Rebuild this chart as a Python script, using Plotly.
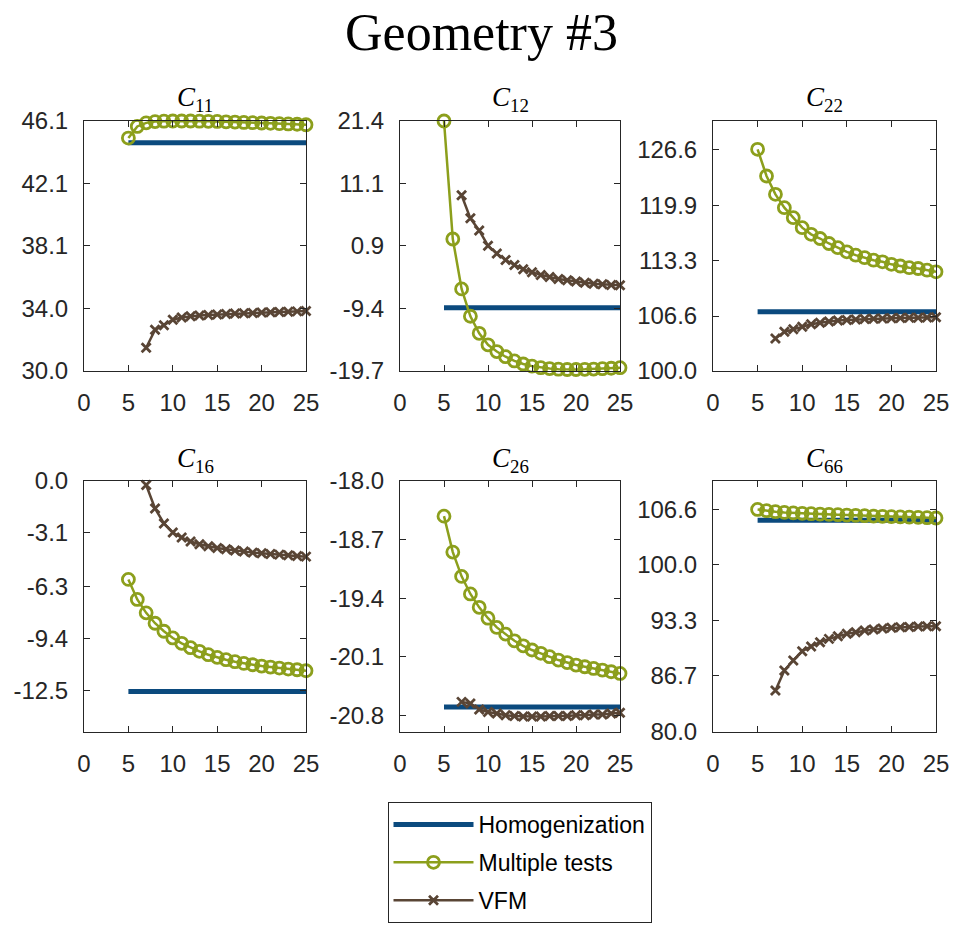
import plotly.graph_objects as go

# Sample sizes (x) for each method
x_multi = [5, 6, 7, 8, 9, 10, 11, 12, 13, 14, 15, 16, 17, 18, 19, 20, 21, 22, 23, 24, 25]
x_vfm = [7, 8, 9, 10, 11, 12, 13, 14, 15, 16, 17, 18, 19, 20, 21, 22, 23, 24, 25]
x_hom = [5, 25]

# Stiffness components
hom_C11 = 44.7
multi_C11 = [45.0, 45.75, 45.98, 46.06, 46.09, 46.10, 46.10, 46.10, 46.09, 46.08, 46.07,
             46.05, 46.03, 46.01, 45.99, 45.97, 45.95, 45.93, 45.91, 45.89, 45.86]
vfm_C11 = [31.5, 32.65, 32.95, 33.3, 33.45, 33.52, 33.57, 33.61, 33.64, 33.67, 33.70,
           33.72, 33.74, 33.76, 33.78, 33.80, 33.82, 33.84, 33.87]

hom_C12 = -9.3
multi_C12 = [21.4, 2.0, -6.2, -10.7, -13.5, -15.4, -16.5, -17.35, -18.05, -18.55, -18.9,
             -19.15, -19.3, -19.4, -19.45, -19.45, -19.42, -19.38, -19.32, -19.25, -19.15]
vfm_C12 = [9.2, 5.4, 3.4, 0.9, -0.4, -1.45, -2.27, -2.98, -3.48, -3.92, -4.25,
           -4.57, -4.79, -5.0, -5.18, -5.34, -5.45, -5.56, -5.62]

hom_C22 = 107.1
multi_C22 = [126.6, 123.4, 121.2, 119.6, 118.4, 117.2, 116.4, 115.9, 115.3, 114.8, 114.3,
             113.9, 113.6, 113.3, 113.1, 112.8, 112.6, 112.4, 112.3, 112.1, 111.9]
vfm_C22 = [103.9, 104.7, 105.0, 105.3, 105.6, 105.8, 105.95, 106.05, 106.12, 106.18, 106.23,
           106.27, 106.3, 106.33, 106.36, 106.38, 106.4, 106.42, 106.45]

hom_C16 = -12.58
multi_C16 = [-5.88, -7.08, -7.88, -8.5, -8.98, -9.38, -9.7, -9.96, -10.18, -10.38, -10.54,
             -10.68, -10.8, -10.9, -10.98, -11.06, -11.12, -11.18, -11.24, -11.28, -11.34]
vfm_C16 = [-0.24, -1.64, -2.54, -3.08, -3.38, -3.62, -3.78, -3.9, -4.0, -4.08, -4.16,
           -4.22, -4.28, -4.32, -4.36, -4.4, -4.44, -4.48, -4.52]

hom_C26 = -20.70
multi_C26 = [-18.42, -18.85, -19.14, -19.35, -19.51, -19.64, -19.75, -19.83, -19.91, -19.97, -20.02,
             -20.06, -20.10, -20.14, -20.17, -20.20, -20.22, -20.24, -20.26, -20.28, -20.30]
vfm_C26 = [-20.64, -20.66, -20.73, -20.76, -20.78, -20.80, -20.81, -20.815, -20.815, -20.815, -20.81,
           -20.81, -20.81, -20.80, -20.80, -20.79, -20.79, -20.78, -20.77]

hom_C66 = 105.3
multi_C66 = [106.6, 106.45, 106.33, 106.25, 106.19, 106.14, 106.09, 106.05, 106.01, 105.97, 105.93,
             105.89, 105.85, 105.81, 105.78, 105.74, 105.71, 105.68, 105.65, 105.62, 105.58]
vfm_C66 = [84.97, 87.36, 88.55, 89.66, 90.22, 90.74, 91.13, 91.45, 91.73, 91.93, 92.13,
           92.25, 92.37, 92.45, 92.52, 92.56, 92.6, 92.64, 92.64]

# Y-axis tick labels per panel
yticks_C11 = ["30.0", "34.0", "38.1", "42.1", "46.1"]
yticks_C12 = ["-19.7", "-9.4", "0.9", "11.1", "21.4"]
yticks_C22 = ["100.0", "106.6", "113.3", "119.9", "126.6"]
yticks_C16 = ["-12.5", "-9.4", "-6.3", "-3.1", "0.0"]
yticks_C26 = ["-20.8", "-20.1", "-19.4", "-18.7", "-18.0"]
yticks_C66 = ["80.0", "86.7", "93.3", "100.0", "106.6"]
xticks = [0, 5, 10, 15, 20, 25]

# Y-axis ranges
yrange_C11 = [30.0, 46.1]
yrange_C12 = [-19.7, 21.4]
yrange_C22 = [100.0, 130.0]
yrange_C16 = [-15.0, 0.0]
yrange_C26 = [-21.0, -18.0]
yrange_C66 = [80.0, 110.0]

panels = [
    ("11", hom_C11, multi_C11, vfm_C11, yticks_C11, yrange_C11),
    ("12", hom_C12, multi_C12, vfm_C12, yticks_C12, yrange_C12),
    ("22", hom_C22, multi_C22, vfm_C22, yticks_C22, yrange_C22),
    ("16", hom_C16, multi_C16, vfm_C16, yticks_C16, yrange_C16),
    ("26", hom_C26, multi_C26, vfm_C26, yticks_C26, yrange_C26),
    ("66", hom_C66, multi_C66, vfm_C66, yticks_C66, yrange_C66),
]

W, H = 956, 925
col_px = [(84, 306), (400, 620), (713, 936)]
row_px = [(121, 371), (481, 732)]

BLUE = "#0b4a7e"
GREEN = "#8c9f1c"
BROWN = "#594535"
AXC = "#262626"
TICKFONT = dict(family="Liberation Sans, Arial, sans-serif", size=24, color=AXC)
SERIF = "Liberation Serif, Times New Roman, serif"

fig = go.Figure()
layout = dict()
annotations = []

for i, (name, hom, multi, vfm, yt, yr) in enumerate(panels):
    r, c = divmod(i, 3)
    k = i + 1
    xa = "x" if k == 1 else f"x{k}"
    ya = "y" if k == 1 else f"y{k}"
    first = (i == 0)

    fig.add_trace(go.Scatter(
        x=x_hom, y=[hom, hom], mode="lines", name="Homogenization",
        line=dict(color=BLUE, width=5), xaxis=xa, yaxis=ya,
        legendgroup="hom", showlegend=first, cliponaxis=False))
    fig.add_trace(go.Scatter(
        x=x_multi, y=multi, mode="lines+markers", name="Multiple tests",
        line=dict(color=GREEN, width=2.5),
        marker=dict(symbol="circle-open", size=12, color=GREEN, line=dict(width=2.8, color=GREEN)),
        xaxis=xa, yaxis=ya, legendgroup="multi", showlegend=first, cliponaxis=False))
    fig.add_trace(go.Scatter(
        x=x_vfm, y=vfm, mode="lines+markers", name="VFM",
        line=dict(color=BROWN, width=2.5),
        marker=dict(symbol="x-thin", size=9, color=BROWN, line=dict(width=2.8, color=BROWN)),
        xaxis=xa, yaxis=ya, legendgroup="vfm", showlegend=first, cliponaxis=False))

    x0, x1 = col_px[c]
    y0, y1 = row_px[r]
    axis_common = dict(
        showline=True, linecolor=AXC, linewidth=1, mirror="ticks",
        ticks="inside", ticklen=6, tickcolor=AXC, tickwidth=1,
        showgrid=False, zeroline=False, tickfont=TICKFONT, automargin=False,
    )
    layout["xaxis" if k == 1 else f"xaxis{k}"] = dict(
        domain=[x0 / W, x1 / W], range=[0, 25], anchor=ya,
        tickvals=xticks, ticktext=[str(t) for t in xticks],
        ticklabelstandoff=10, **axis_common)
    layout["yaxis" if k == 1 else f"yaxis{k}"] = dict(
        domain=[1 - y1 / H, 1 - y0 / H], range=yr, anchor=xa,
        tickvals=[float(t) for t in yt], ticktext=yt,
        ticklabelstandoff=10, **axis_common)

    annotations.append(dict(
        text=f"<i>C</i><sub>{name}</sub>", xref="paper", yref="paper",
        x=(x0 + x1) / 2 / W, y=1 - (y0 - 3 + r) / H, xanchor="center", yanchor="bottom",
        showarrow=False, font=dict(family=SERIF, size=27, color="black")))

annotations.append(dict(
    text="Geometry #3", xref="paper", yref="paper", x=482 / W, y=1 - 33 / H,
    xanchor="center", yanchor="middle", showarrow=False,
    font=dict(family=SERIF, size=52, color="black")))

fig.update_layout(
    width=W, height=H, margin=dict(l=0, r=0, t=0, b=0, autoexpand=False),
    paper_bgcolor="white", plot_bgcolor="white",
    annotations=annotations,
    legend=dict(
        x=519.5 / W, y=1 - 802 / H, xanchor="center", yanchor="top",
        bordercolor=AXC, borderwidth=1, bgcolor="white",
        font=dict(family="Liberation Sans, Arial, sans-serif", size=23, color="black"),
        traceorder="grouped", tracegroupgap=5, itemwidth=80,
    ),
    **layout,
)

fig.write_html("out.html")
